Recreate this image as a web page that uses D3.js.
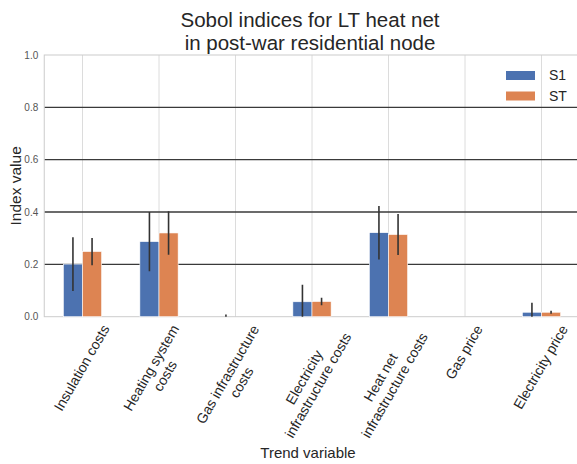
<!DOCTYPE html>
<html><head><meta charset="utf-8">
<script src="https://cdn.jsdelivr.net/npm/d3@7"></script>
<style>body{margin:0;background:#fff}svg{display:block;font-family:"Liberation Sans",Arial,sans-serif}</style>
</head><body><svg id="c" width="577" height="464"></svg>
<script>
const categories = ["Insulation costs","Heating system\ncosts","Gas infrastructure\ncosts","Electricity\ninfrastructure costs","Heat net\ninfrastructure costs","Gas price","Electricity price"];
const s1Values = [0.201, 0.287, 0.000, 0.057, 0.321, 0.000, 0.017];
const s1Errors = [0.103, 0.113, 0.008, 0.065, 0.102, 0.000, 0.036];
const stValues = [0.249, 0.320, 0.000, 0.058, 0.314, 0.000, 0.017];
const stErrors = [0.052, 0.083, 0.000, 0.014, 0.078, 0.000, 0.006];
const seriesNames = ["S1","ST"];
const colors = ["#4c72b0","#dd8452"];
const yTicks = [0.0,0.2,0.4,0.6,0.8,1.0];

(function(){
const svg = d3.select("#c");
const pL = 44.25, pR = 579.75, pT = 55, pB = 316.7;
const x = d3.scaleLinear().domain([-0.5, categories.length-0.5]).range([pL,pR]);
const y = d3.scaleLinear().domain([0,1]).range([pB,pT]);

svg.append("g").selectAll("line").data(categories).join("line")
  .attr("x1",(d,i)=>x(i)).attr("x2",(d,i)=>x(i)).attr("y1",pT).attr("y2",pB)
  .attr("stroke","#dcdcdc").attr("stroke-width",1);
svg.append("g").selectAll("line").data(yTicks.filter(t=>t>0&&t<1)).join("line")
  .attr("x1",pL).attr("x2",pR).attr("y1",d=>y(d)).attr("y2",d=>y(d))
  .attr("stroke","#3a3a3a").attr("stroke-width",1.3);
svg.append("rect").attr("x",pL).attr("y",pT).attr("width",pR-pL).attr("height",pB-pT)
  .attr("fill","none").attr("stroke","#cccccc").attr("stroke-width",1);

const yAxis = d3.axisLeft(y).tickValues(yTicks).tickFormat(d3.format(".1f")).tickSize(0).tickPadding(6);
const ya = svg.append("g").attr("transform",`translate(${pL},0)`).call(yAxis);
ya.select(".domain").remove();
ya.selectAll("text").attr("fill","#555").attr("font-size","10px").attr("font-family","Liberation Sans, Arial, sans-serif");

const bw = 0.25;
const series = [s1Values, stValues];
const errs = [s1Errors, stErrors];
svg.append("clipPath").attr("id","clipPlot").append("rect").attr("x",pL).attr("y",pT).attr("width",pR-pL).attr("height",pB-pT);
series.forEach((vals,si)=>{
  svg.append("g").selectAll("rect").data(vals).join("rect")
    .attr("x",(d,i)=>x(i - bw + si*bw)).attr("width",x(bw)-x(0))
    .attr("y",d=>y(d)).attr("height",d=>y(0)-y(d))
    .attr("fill",colors[si]).attr("stroke","#fff").attr("stroke-width",0.6);
});
series.forEach((vals,si)=>{
  svg.append("g").attr("clip-path","url(#clipPlot)").selectAll("line").data(vals).join("line")
    .attr("x1",(d,i)=>x(i - bw/2 + si*bw)).attr("x2",(d,i)=>x(i - bw/2 + si*bw))
    .attr("y1",(d,i)=>y(d-errs[si][i])).attr("y2",(d,i)=>y(d+errs[si][i]))
    .attr("stroke","#333").attr("stroke-width",1.6);
});

const ang = 60*Math.PI/180;
const labelTop = 322;
categories.forEach((c,i)=>{
  const t = svg.append("text").attr("font-size","14px").attr("fill","#262626").attr("text-anchor","middle");
  c.split("\n").forEach((ln,k)=>{
    t.append("tspan").attr("x",0).attr("dy",k===0?0:"1.15em").text(ln);
  });
  const bb = t.node().getBBox();
  const cx = bb.x+bb.width/2, cy = bb.y+bb.height/2;
  const H = bb.width*Math.sin(ang)+bb.height*Math.cos(ang);
  t.attr("transform",`translate(${x(i)-1},${labelTop+H/2}) rotate(-60) translate(${-cx},${-cy})`);
});

svg.append("text").attr("x",(pL+pR)/2-4).attr("y",458).attr("text-anchor","middle")
  .attr("font-size","15px").attr("fill","#262626").text("Trend variable");
svg.append("text").attr("transform",`translate(21,${(pT+pB)/2}) rotate(-90)`).attr("text-anchor","middle")
  .attr("font-size","15.5px").attr("fill","#262626").text("Index value");

const title = svg.append("text").attr("text-anchor","middle").attr("font-size","20.5px").attr("fill","#262626");
title.append("tspan").attr("x",310).attr("y",27).text("Sobol indices for LT heat net");
title.append("tspan").attr("x",310).attr("y",50).text("in post-war residential node");

const lg = svg.append("g");
seriesNames.forEach((n,i)=>{
  lg.append("rect").attr("x",506).attr("y",71+i*20.5).attr("width",29).attr("height",9).attr("fill",colors[i]);
  lg.append("text").attr("x",549).attr("y",80+i*20.5).attr("font-size","14px").attr("fill","#262626").text(n);
});
})();
</script></body></html>
